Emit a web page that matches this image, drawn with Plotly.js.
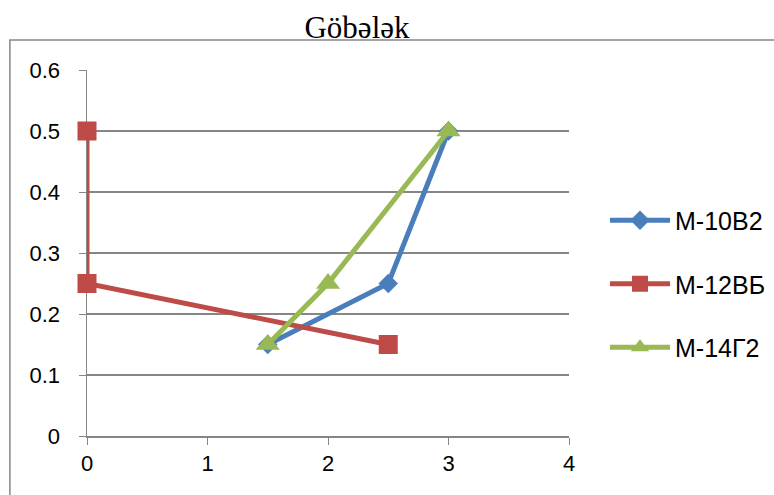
<!DOCTYPE html>
<html>
<head>
<meta charset="utf-8">
<script src="https://cdn.plot.ly/plotly-3.0.1.min.js"></script>
<style>html,body{margin:0;padding:0;background:#fff;}#chart{width:774px;height:495px;}</style>
</head>
<body>
<div id="chart"></div>
<script>
const chartTitle = "Göbələk";
const seriesNames = ["М-10В2", "М-12ВБ", "М-14Г2"];
const x1 = [1.5, 2.5, 3];
const y1 = [0.15, 0.25, 0.5];
const x2 = [0, 0, 2.5];
const y2 = [0.5, 0.25, 0.15];
const x3 = [1.5, 2, 3];
const y3 = [0.15, 0.25, 0.5];
const xTicks = [0, 1, 2, 3, 4];
const yTicks = [0, 0.1, 0.2, 0.3, 0.4, 0.5, 0.6];

const colors = ["#4A7EBB", "#BE4B48", "#98B954"];
const symbols = ["diamond", "square", "triangle-up"];
const sizes = [15, 19, 21];
const xs = [x1, x2, x3], ys = [y1, y2, y3];

const traces = seriesNames.map((n, i) => ({
  type: "scatter", mode: "lines+markers", name: n,
  x: xs[i], y: ys[i], legendgroup: "g" + i, cliponaxis: false,
  line: {color: colors[i], width: 5},
  marker: {symbol: symbols[i], size: sizes[i], color: colors[i]}
}));

const layout = {
  width: 774, height: 495,
  margin: {l: 87, r: 205, t: 70, b: 59},
  paper_bgcolor: "#fff", plot_bgcolor: "#fff",
  font: {family: "Liberation Sans", size: 22, color: "#000"},
  title: {text: chartTitle, font: {family: "Liberation Serif", size: 31, color: "#000"},
          xref: "container", x: 357 / 774, xanchor: "center", yref: "container", y: 0.945, yanchor: "middle"},
  xaxis: {range: [0, 4], tickvals: xTicks, ticktext: xTicks.map(String), showgrid: false, zeroline: false,
          showline: true, linecolor: "#868686", linewidth: 1.5, ticks: "outside", ticklen: 7, tickcolor: "#868686",
          tickfont: {family: "Liberation Sans", size: 22, color: "#000"}, fixedrange: true, layer: "below traces"},
  yaxis: {range: [0, 0.6], tickvals: yTicks, ticktext: yTicks.map(String), showgrid: true, gridcolor: "#868686", gridwidth: 1.5,
          zeroline: false, showline: true, linecolor: "#868686", linewidth: 1.5, ticks: "outside", ticklen: 7, tickcolor: "#868686",
          ticklabelstandoff: 14,
          tickfont: {family: "Liberation Sans", size: 22, color: "#000"}, fixedrange: true, layer: "below traces"},
  legend: {xref: "container", yref: "container", x: 605 / 774, xanchor: "left", y: (495 - 284) / 495, yanchor: "middle", itemwidth: 60,
           font: {family: "Liberation Sans", size: 25, color: "#000"}, tracegroupgap: 28, bgcolor: "rgba(0,0,0,0)"},
  shapes: [{type: "rect", xref: "paper", yref: "paper", x0: -0.16, x1: 2, y0: -1, y1: 1.082,
            line: {color: "#868686", width: 1.5}, fillcolor: "rgba(0,0,0,0)", layer: "below"}],
  showlegend: true
};
Plotly.newPlot("chart", traces, layout, {displayModeBar: false, staticPlot: true});
</script>
</body>
</html>
